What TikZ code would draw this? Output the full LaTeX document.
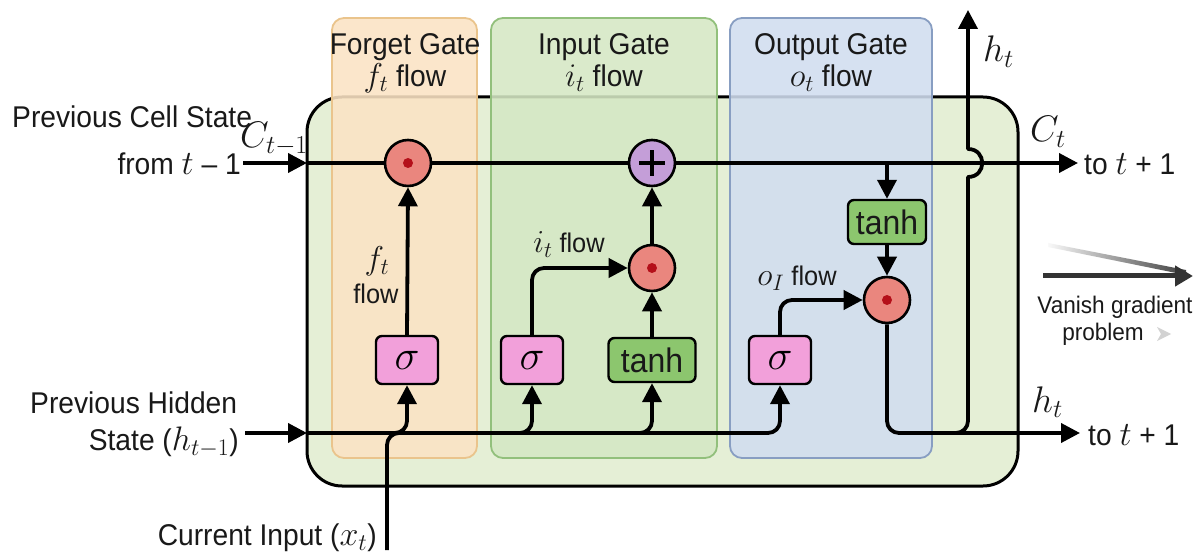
\RequirePackage{fix-cm}
\documentclass[tikz,border=0pt]{standalone}
\usepackage{fontspec}
\setmainfont[FakeStretch=0.94]{Liberation Sans}
\usetikzlibrary{arrows.meta}
\newcommand\setfs[1]{\fontsize{#1}{#1}\selectfont}

\definecolor{outerfill}{RGB}{229,239,214}
\definecolor{forgetfill}{RGB}{251,227,196}
\definecolor{forgetedge}{RGB}{234,196,140}
\definecolor{inputfill}{RGB}{213,232,196}
\definecolor{inputedge}{RGB}{146,192,124}
\definecolor{outputfill}{RGB}{209,221,240}
\definecolor{outputedge}{RGB}{136,158,194}
\definecolor{mulfill}{RGB}{234,134,126}
\definecolor{dotred}{RGB}{180,16,26}
\definecolor{addfill}{RGB}{196,158,216}
\definecolor{sigfill}{RGB}{242,160,218}
\definecolor{tanhfill}{RGB}{140,198,110}
\definecolor{ink}{RGB}{25,25,25}

\tikzset{
  wire/.style={line width=3.8pt, draw=black, line join=round},
  arr/.style={-{Triangle[length=19pt,width=19pt]}},
  gatebox/.style={line width=1.8pt, rounded corners=12pt, fill opacity=0.88},
  opcirc/.style={circle, draw=black, line width=2.6pt, minimum size=46pt, inner sep=0pt},
  mul/.style={opcirc, fill=mulfill,
    path picture={\fill[dotred] (path picture bounding box.center) circle (5pt);}},
  addop/.style={opcirc, fill=addfill,
    path picture={\draw[line width=3.2pt]
      ([xshift=-13pt]path picture bounding box.center) -- ([xshift=13pt]path picture bounding box.center)
      ([yshift=-13pt]path picture bounding box.center) -- ([yshift=13pt]path picture bounding box.center);}},
  sigbox/.style={rectangle, rounded corners=6pt, draw=black, line width=2.4pt, fill=sigfill,
    minimum width=62pt, minimum height=48pt, inner sep=0pt, font=\setfs{42}},
  tanhbox/.style={rectangle, rounded corners=6pt, draw=black, line width=2.4pt, fill=tanhfill,
    minimum height=44pt, inner sep=0pt, font=\setfs{34}, text=ink},
  lbl/.style={inner sep=0pt, text=ink, font=\setfs{30}},
  mlbl/.style={inner sep=0pt, text=ink, font=\setfs{37}},
  flowlbl/.style={inner sep=0pt, text=ink, font=\setfs{27}},
}

\begin{document}
\begin{tikzpicture}[x=1pt, y=-1pt]
\useasboundingbox[fill=white] (0,0) rectangle (1194,553);

% LSTM cell body
\draw[line width=3pt, fill=outerfill, rounded corners=35pt] (307,97) rectangle (1018,486);

% gate regions
\draw[gatebox, fill=forgetfill, draw=forgetedge] (332,18) rectangle (477,458);
\draw[gatebox, fill=inputfill, draw=inputedge] (491,18) rectangle (717,458);
\draw[gatebox, fill=outputfill, draw=outputedge] (730,18) rectangle (932,458);

% gate titles
\node[lbl, anchor=base] (tf) at (405,55) {Forget Gate};
\node[lbl, anchor=base] (tfs) at (405,87) {{\setfs{33}$f_t$} flow};
\node[lbl, anchor=base] (ti) at (604,55) {Input Gate};
\node[lbl, anchor=base] (tis) at (604,87) {{\setfs{33}$i_t$} flow};
\node[lbl, anchor=base] (to) at (831,55) {Output Gate};
\node[lbl, anchor=base] (tos) at (831,87) {{\setfs{33}$o_t$} flow};

% operators
\node[mul] (fmul) at (408,163) {};
\node[addop] (add) at (652,163) {};
\node[mul] (imul) at (652,268) {};
\node[mul] (omul) at (887,300) {};
\node[sigbox] (fsig) at (407,360) {$\sigma$};
\node[sigbox] (isig) at (532,360) {$\sigma$};
\node[tanhbox, minimum width=87pt] (itanh) at (652,360) {tanh};
\node[sigbox] (osig) at (780,360) {$\sigma$};
\node[tanhbox, minimum width=78pt] (otanh) at (887,222) {tanh};

% coordinates of free ends and taps
\coordinate (cin) at (243,163);
\coordinate (cL) at (307,163);
\coordinate (cout) at (1078,163);
\coordinate (ctap) at (887,163);
\coordinate (hin) at (245,433);
\coordinate (hL) at (307,433);
\coordinate (fb) at (393,433);
\coordinate (ib) at (518,433);
\coordinate (tb) at (638,433);
\coordinate (xin) at (387,550);
\coordinate (xj) at (405,433);
\coordinate (hout) at (1080,433);
\coordinate (hj) at (945,433);
\coordinate (hv) at (968,190);
\coordinate (hb1) at (968,177);
\coordinate (hb2) at (968,149);
\coordinate (htop) at (968,10);

% cell state path
\draw[wire, arr] (cin) -- (cL);
\draw[wire] (cL) -- (fmul.west);
\draw[wire] (fmul.east) -- (add.west);
\draw[wire, arr] (add.east) -- (cout);

% forget gate
\draw[wire, arr] (fsig.north) -- (fmul.south);

% input gate
\draw[wire, arr, rounded corners=12pt] (isig.north) |- (imul.west);
\draw[wire, arr] (itanh.north) -- (imul.south);
\draw[wire, arr] (imul.north) -- (add.south);

% output gate
\draw[wire, arr] (ctap) -- (otanh.north);
\draw[wire, arr] (otanh.south) -- (omul.north);
\draw[wire, arr, rounded corners=12pt] (osig.north) |- (omul.west);

% hidden state and input
\draw[wire, arr] (hin) -- (hL);
\draw[wire, arr, rounded corners=12pt] (hL) -| (osig.south);
\draw[wire, arr, rounded corners=12pt] (fb) -| (fsig.south);
\draw[wire, arr, rounded corners=12pt] (ib) -| (isig.south);
\draw[wire, arr, rounded corners=12pt] (tb) -| (itanh.south);
\draw[wire, rounded corners=12pt] (xin) |- (xj);

% new hidden state
\draw[wire, arr, rounded corners=12pt] (omul.south) |- (hout);
\draw[wire, arr] (hj) [rounded corners=12pt] -| (hv) [sharp corners] -- (hb1)
  .. controls (987,177) and (987,149) .. (hb2) -- (htop);

% side labels
\node[lbl, anchor=base west] (lprev) at (12,128) {Previous Cell State};
\node[lbl, anchor=base east] (lfrom) at (241,175) {from {\setfs{34}$t$} -- 1};
\node[mlbl, anchor=base west] (lcm) at (240,148) {$C_{t-1}$};
\node[lbl, anchor=base west] (lhid) at (30,413) {Previous Hidden};
\node[lbl, anchor=base east] (lstate) at (239,450) {State ({\setfs{34}$h_{t-1}$})};
\node[lbl, anchor=base east] (lx) at (377,545) {Current Input ({\setfs{34}$x_t$})};
\node[mlbl, anchor=base west] (lht) at (983,62) {$h_t$};
\node[mlbl, anchor=base west] (lct) at (1030,142) {$C_t$};
\node[lbl, anchor=base west] (lto1) at (1084,175) {to {\setfs{34}$t$} + 1};
\node[mlbl, anchor=base west] (lht2) at (1032,412) {$h_t$};
\node[lbl, anchor=base west] (lto2) at (1088,445) {to {\setfs{34}$t$} + 1};

% flow labels
\node[flowlbl, anchor=base] (ff1) at (377,270) {{\setfs{33}$f_t$}};
\node[flowlbl, anchor=base] (ff2) at (376,304) {flow};
\node[flowlbl, anchor=base] (fi) at (569,253) {{\setfs{32}$i_t$} flow};
\node[flowlbl, anchor=base] (fo) at (797,286) {{\setfs{32}$o_I$} flow};

% vanishing gradient note
\coordinate (v1) at (1043,276);
\coordinate (v2) at (1193,276);
\shade[left color=gray!5, right color=black!75] (1048,243) -- (1186,270) -- (1186,275) -- (1048,247) -- cycle;
\draw[line width=5pt, draw=black!80, -{Triangle[length=18pt,width=20pt]}] (v1) -- (v2);
\node[lbl, font=\setfs{24}, anchor=base] (vg1) at (1115,313) {Vanish gradient};
\node[lbl, font=\setfs{24}, anchor=base] (vg2) at (1103,341) {problem};
\fill[gray!35] (1157,327) -- (1171,334) -- (1157,341) -- (1161,334) -- cycle;
\end{tikzpicture}
\end{document}
